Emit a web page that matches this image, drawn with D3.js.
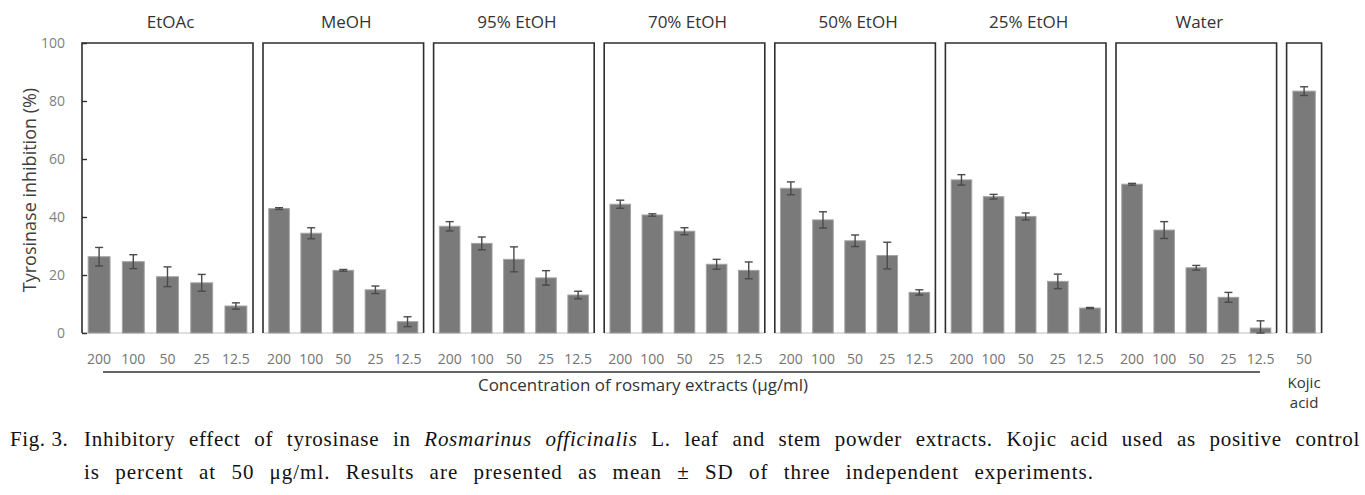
<!DOCTYPE html>
<html>
<head>
<meta charset="utf-8">
<script src="https://cdn.jsdelivr.net/npm/d3@7"></script>
<style>
  body { margin: 0; background: #fff; }
  svg text { font-family: "Open Sans", "Noto Sans", sans-serif; }
  svg text.cap { font-family: "Liberation Serif", "DejaVu Serif", serif; }
</style>
</head>
<body>
<svg id="chart" width="1365" height="495"></svg>
<script>
// concentrations (ug/ml) and extract solvents
var concs = ['200', '100', '50', '25', '12.5'];
var extracts = ['EtOAc', 'MeOH', '95% EtOH', '70% EtOH', '50% EtOH', '25% EtOH', 'Water'];

// mean inhibition (%) and SD per extract
var etoacMean = [26.3, 24.6, 19.4, 17.3, 9.3],  etoacSd = [3.2, 2.4, 3.4, 2.9, 1.1];
var meohMean  = [42.9, 34.4, 21.6, 14.9, 3.9],  meohSd  = [0.3, 1.9, 0.3, 1.3, 1.7];
var etoh95Mean = [36.8, 30.9, 25.4, 19.0, 13.1], etoh95Sd = [1.6, 2.2, 4.3, 2.5, 1.3];
var etoh70Mean = [44.4, 40.7, 35.1, 23.7, 21.6], etoh70Sd = [1.4, 0.4, 1.2, 1.7, 2.9];
var etoh50Mean = [49.9, 39.0, 31.8, 26.7, 14.0], etoh50Sd = [2.2, 2.8, 2.0, 4.6, 0.9];
var etoh25Mean = [52.8, 47.0, 40.2, 17.8, 8.6],  etoh25Sd = [1.8, 0.8, 1.2, 2.5, 0.2];
var waterMean = [51.3, 35.5, 22.5, 12.3, 1.7],  waterSd = [0.3, 2.9, 0.8, 1.7, 2.5];

// positive control
var kojicConc = ['50'];
var kojicMean = [83.4], kojicSd = [1.5];

var yTicks = [0, 20, 40, 60, 80, 100];

var means = [etoacMean, meohMean, etoh95Mean, etoh70Mean, etoh50Mean, etoh25Mean, waterMean],
    sds = [etoacSd, meohSd, etoh95Sd, etoh70Sd, etoh50Sd, etoh25Sd, waterSd];

var svg = d3.select('#chart');

var y = d3.scaleLinear().domain([0, 100]).range([333, 43]);

// panel layout: first panel a bit wider, narrow kojic panel at the end
var left = 82, gap = 10, firstW = 171, panelW = 160.6, kojicW = 35;
var panels = [], x0 = left;
extracts.forEach(function(name, i) {
    var w = i === 0 ? firstW : panelW;
    panels.push({name: name, x0: x0, w: w, cats: concs, mean: means[i], sd: sds[i]});
    x0 += w + gap;
});
panels.push({name: '', x0: x0, w: kojicW, cats: kojicConc, mean: kojicMean, sd: kojicSd});

var barFill = '#7a7a7a', frameCol = '#2e2e2e';

panels.forEach(function(p) {
    var x = d3.scaleBand().domain(p.cats).range([p.x0, p.x0 + p.w])
        .paddingInner(0.36).paddingOuter(0.18);
    var g = svg.append('g').attr('class', 'panel');

    // bottom baseline (light)
    g.append('line')
        .attr('x1', p.x0).attr('x2', p.x0 + p.w)
        .attr('y1', y(0)).attr('y2', y(0))
        .attr('stroke', '#d4d4d4').attr('stroke-width', 1.5);

    var rows = p.cats.map(function(c, i) { return {c: c, m: p.mean[i], s: p.sd[i]}; });

    g.selectAll('rect.bar').data(rows).enter().append('rect')
        .attr('class', 'bar')
        .attr('x', function(d) { return x(d.c); })
        .attr('width', x.bandwidth())
        .attr('y', function(d) { return y(d.m); })
        .attr('height', function(d) { return y(0) - y(d.m); })
        .attr('fill', barFill)
        .attr('stroke', '#a3a3a3').attr('stroke-width', 1);

    // error bars
    var eb = g.selectAll('g.err').data(rows).enter().append('g')
        .attr('class', 'err')
        .attr('stroke', '#4a4a4a').attr('stroke-width', 1.4);
    eb.append('line')
        .attr('x1', function(d) { return x(d.c) + x.bandwidth() / 2; })
        .attr('x2', function(d) { return x(d.c) + x.bandwidth() / 2; })
        .attr('y1', function(d) { return y(d.m + d.s); })
        .attr('y2', function(d) { return y(Math.max(0, d.m - d.s)); });
    [1, -1].forEach(function(sgn) {
        eb.append('line')
            .attr('x1', function(d) { return x(d.c) + x.bandwidth() / 2 - 4; })
            .attr('x2', function(d) { return x(d.c) + x.bandwidth() / 2 + 4; })
            .attr('y1', function(d) { return y(Math.max(0, d.m + sgn * d.s)); })
            .attr('y2', function(d) { return y(Math.max(0, d.m + sgn * d.s)); });
    });

    // frame: left, top, right
    g.append('path')
        .attr('d', 'M' + p.x0 + ',' + y(0) + 'V' + y(100) + 'H' + (p.x0 + p.w) + 'V' + y(0))
        .attr('fill', 'none').attr('stroke', frameCol).attr('stroke-width', 1.6);

    // panel title
    g.append('text')
        .attr('x', p.x0 + p.w / 2 + 3).attr('y', 28)
        .attr('text-anchor', 'middle')
        .attr('font-size', 17).attr('fill', '#333')
        .text(p.name);

    // concentration labels
    g.selectAll('text.conc').data(p.cats).enter().append('text')
        .attr('class', 'conc')
        .attr('x', function(d) { return x(d) + x.bandwidth() / 2; })
        .attr('y', 364)
        .attr('text-anchor', 'middle')
        .attr('font-size', 14).attr('fill', '#737373')
        .text(function(d) { return d; });
});

// y axis (ticks point into the first panel)
var yAxis = svg.append('g')
    .attr('transform', 'translate(' + left + ',0)')
    .call(d3.axisLeft(y).tickValues(yTicks).tickSizeInner(-5).tickSizeOuter(0).tickPadding(17));
yAxis.select('.domain').remove();
yAxis.selectAll('.tick line').attr('stroke', frameCol).attr('stroke-width', 1.4);
yAxis.selectAll('.tick text')
    .attr('font-size', 14).attr('fill', '#808080')
    .style('font-family', '"Open Sans", sans-serif');

svg.append('text')
    .attr('transform', 'translate(36,190) rotate(-90)')
    .attr('text-anchor', 'middle')
    .attr('font-size', 18).attr('fill', '#404040')
    .text('Tyrosinase inhibition (%)');

// underline for extract concentrations
svg.append('line')
    .attr('x1', 103).attr('x2', 1260).attr('y1', 372).attr('y2', 372)
    .attr('stroke', '#333').attr('stroke-width', 1.5);

svg.append('text')
    .attr('x', 643).attr('y', 391)
    .attr('text-anchor', 'middle')
    .attr('font-size', 16).attr('fill', '#333')
    .attr('textLength', 330).attr('lengthAdjust', 'spacingAndGlyphs')
    .text('Concentration of rosmary extracts (\u00b5g/ml)');

var kp = panels[panels.length - 1];
['Kojic', 'acid'].forEach(function(t, i) {
    svg.append('text')
        .attr('x', kp.x0 + kp.w / 2).attr('y', 388 + i * 20)
        .attr('text-anchor', 'middle')
        .attr('font-size', 15).attr('fill', '#333')
        .text(t);
});

// caption, justified by letter + word spacing
var capSize = 21, capX = 84;
svg.append('text').attr('class', 'cap')
    .attr('x', 10).attr('y', 446).attr('font-size', capSize).attr('fill', '#111')
    .attr('letter-spacing', 0.6)
    .text('Fig. 3.');

var justify = function(sel, target) {
    var natural = sel.node().getComputedTextLength(),
        txt = sel.text(),
        spaces = (txt.match(/ /g) || []).length,
        slack = target - natural;
    sel.attr('letter-spacing', 0.4 * slack / txt.length)
        .attr('word-spacing', 0.6 * slack / spaces);
};

var l1 = svg.append('text').attr('class', 'cap')
    .attr('x', capX).attr('y', 446).attr('font-size', capSize).attr('fill', '#111');
l1.append('tspan').text('Inhibitory effect of tyrosinase in ');
l1.append('tspan').attr('font-style', 'italic').text('Rosmarinus officinalis');
l1.append('tspan').text(' L. leaf and stem powder extracts. Kojic acid used as positive control');
justify(l1, 1360 - capX);

var l2 = svg.append('text').attr('class', 'cap')
    .attr('x', capX).attr('y', 479).attr('font-size', capSize).attr('fill', '#111')
    .text('is percent at 50 \u03bcg/ml. Results are presented as mean \u00b1 SD of three independent experiments.');
justify(l2, 1094 - capX);
</script>
</body>
</html>
